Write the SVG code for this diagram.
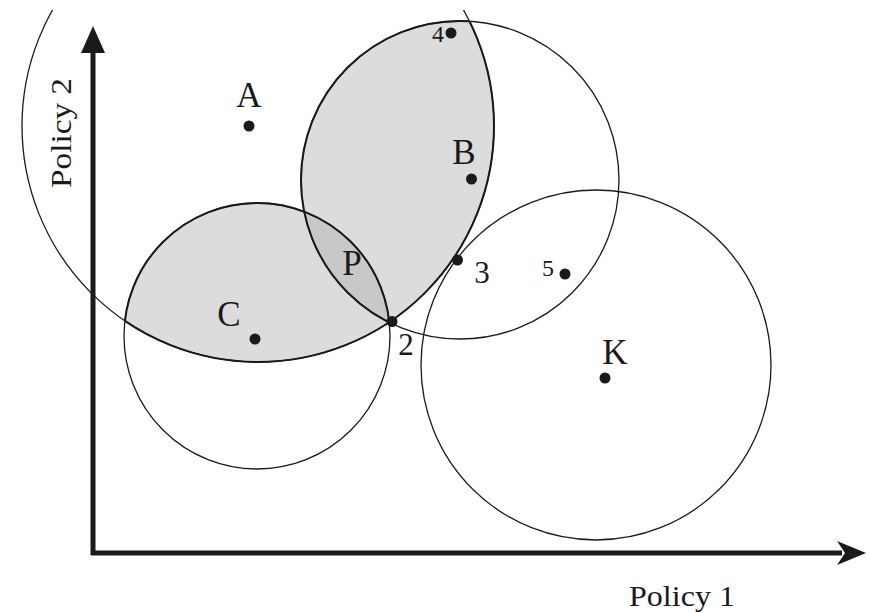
<svg xmlns="http://www.w3.org/2000/svg" width="870" height="613" viewBox="0 0 870 613">
<style>
.c{fill:none;stroke:#1a1a1a;stroke-width:1.3}
.lb{fill:none;stroke:#1a1a1a;stroke-width:2}
.t{font-family:"Liberation Serif","Times New Roman",serif;fill:#1a1a1a;text-anchor:middle}
.d{fill:#1a1a1a}
.ax{stroke:#1a1a1a;stroke-width:5}
</style>
<defs>
<clipPath id="clipA"><circle cx="258" cy="126" r="236"/></clipPath>
<clipPath id="clipC"><circle cx="257" cy="336" r="133"/></clipPath>
<clipPath id="clipBC"><circle cx="460" cy="180" r="159"/><circle cx="257" cy="336" r="133"/></clipPath>
<clipPath id="clipTop"><rect x="0" y="10" width="870" height="603"/></clipPath>
</defs>
<rect width="870" height="613" fill="#fff"/>
<g id="shading">
<g clip-path="url(#clipA)">
<circle cx="257" cy="336" r="133" fill="#dcdcdc"/>
<circle cx="460" cy="180" r="159" fill="#dcdcdc"/>
</g>
<circle cx="460" cy="180" r="159" fill="#c8c8c8" clip-path="url(#clipC)"/>
</g>
<g id="connectors">
<circle id="circleA" class="c" cx="258" cy="126" r="236" clip-path="url(#clipTop)"/>
<circle id="circleB" class="c" cx="460" cy="180" r="159"/>
<circle id="circleC" class="c" cx="257" cy="336" r="133"/>
<circle id="circleK" class="c" cx="596" cy="365" r="175"/>
<g clip-path="url(#clipA)">
<circle class="lb" cx="257" cy="336" r="133"/>
<circle class="lb" cx="460" cy="180" r="159"/>
</g>
<circle class="lb" cx="258" cy="126" r="236" clip-path="url(#clipBC)"/>
</g>
<g id="axes">
<line class="ax" x1="93" y1="555" x2="93" y2="50"/>
<polygon class="d" points="93,26 81,53 105,53"/>
<line class="ax" x1="91" y1="553" x2="842" y2="553"/>
<polygon class="d" points="866,553 837,541 845,553 837,565"/>
<text class="t" x="682" y="606" font-size="29" textLength="106" lengthAdjust="spacingAndGlyphs">Policy 1</text>
<text class="t" transform="translate(71,133) rotate(-90)" font-size="29" textLength="110" lengthAdjust="spacingAndGlyphs">Policy 2</text>
</g>
<g id="nodeA"><circle class="d" cx="249" cy="126" r="5.5"/><text class="t" x="249" y="107" font-size="35">A</text></g>
<g id="nodeB"><circle class="d" cx="471.5" cy="179" r="5.5"/><text class="t" x="464" y="164" font-size="35">B</text></g>
<g id="nodeC"><circle class="d" cx="255" cy="339" r="5.5"/><text class="t" x="229" y="326" font-size="35">C</text></g>
<g id="nodeK"><circle class="d" cx="605" cy="378" r="5.5"/><text class="t" x="615" y="364" font-size="35">K</text></g>
<g id="nodeP"><text class="t" x="352" y="275" font-size="35">P</text></g>
<g id="node2"><circle class="d" cx="392" cy="321.5" r="5.5"/><text class="t" x="406" y="355" font-size="31">2</text></g>
<g id="node3"><circle class="d" cx="457.5" cy="260" r="5.5"/><text class="t" x="482" y="283" font-size="31">3</text></g>
<g id="node4"><circle class="d" cx="451" cy="33" r="5.5"/><text class="t" x="438" y="42" font-size="24">4</text></g>
<g id="node5"><circle class="d" cx="565" cy="274" r="5.5"/><text class="t" x="548" y="276" font-size="24">5</text></g>
</svg>
